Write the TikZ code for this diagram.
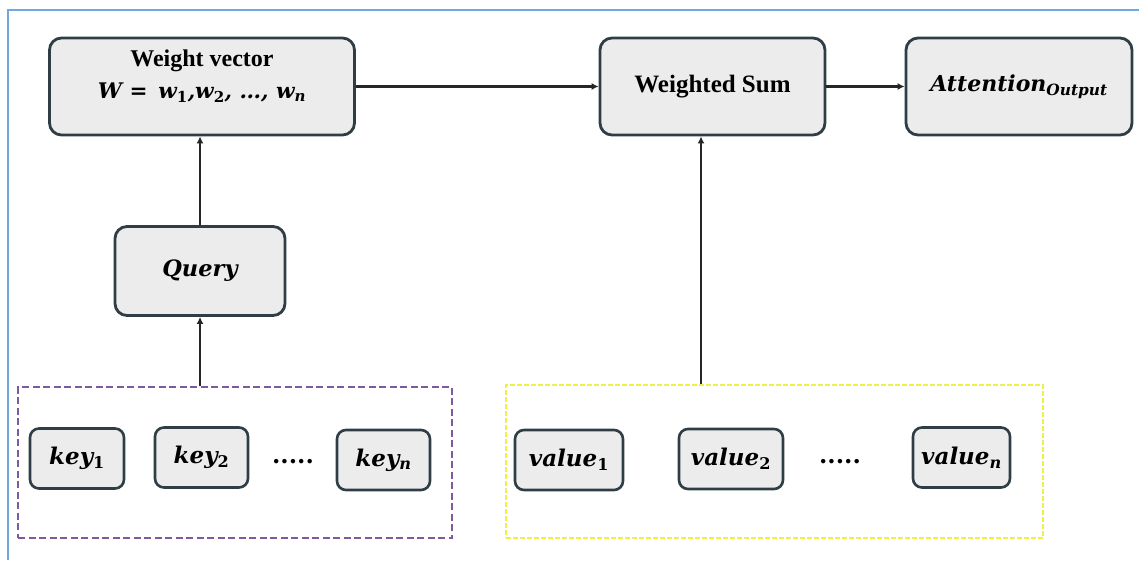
\documentclass[tikz,border=0pt]{standalone}
\usepackage{fontspec}
\setmainfont{Liberation Serif}
\newfontfamily\lblfont{DejaVu Serif}
\usetikzlibrary{arrows.meta}
\definecolor{boxfill}{HTML}{ECECEC}
\definecolor{boxline}{HTML}{2F3D44}
\definecolor{framebl}{HTML}{6FA8DC}
\definecolor{grppurple}{HTML}{7D5A9E}
\definecolor{grpyellow}{HTML}{EEF04A}
\newcommand{\lbl}[1]{{\lblfont\bfseries\itshape #1}}
\newcommand{\lsub}[1]{\textsubscript{#1}}
\newcommand{\lupsub}[1]{\textsubscript{\upshape #1}}

\begin{document}
\begin{tikzpicture}[x=1pt,y=-1pt,
    blk/.style={draw=boxline,fill=boxfill,line width=2.8pt,rounded corners=12pt,
      inner sep=0pt,align=center,minimum height=97pt},
    itembox/.style={draw=boxline,fill=boxfill,line width=2.6pt,rounded corners=9pt,
      inner sep=0pt,minimum height=60pt,font=\fontsize{23}{27}\selectfont},
    dotrow/.style={inner sep=0pt,font=\fontsize{24}{28}\selectfont\lblfont\bfseries},
    grp/.style={rectangle,line width=2.4pt,inner sep=0pt}]
  \useasboundingbox (0,0) rectangle (1139,560);
  \draw[framebl,line width=1.8pt] (8,560) -- (8,10) -- (1139,10);
  % top row
  \draw
    (202,86.5) node[blk,minimum width=305pt] (w){\raisebox{0pt}[\height][\dimexpr\depth+21pt\relax]{%
      \begin{tabular}{@{}c@{}}
        {\fontsize{24}{28}\selectfont\bfseries Weight vector}\\[13pt]
        {\fontsize{21.5}{24}\selectfont\lbl{W =\enspace w\lupsub{1},w\lupsub{2}, \dots, w\lsub{n}}}
      \end{tabular}}}
    (712.5,86.5) node[blk,minimum width=225pt,font=\fontsize{25}{28}\selectfont\bfseries] (wsum){Weighted Sum}
    (1019,86.5) node[blk,minimum width=226pt,font=\fontsize{22}{26}\selectfont] (attn){\lbl{Attention\lsub{Output}}}
    (200,271) node[blk,minimum width=170pt,minimum height=89pt,font=\fontsize{22.5}{26}\selectfont] (query){\lbl{Query}};
  % groups
  \draw
    (235,462.5) node[grp,draw=grppurple,dash pattern=on 7pt off 3.5pt,minimum width=434pt,minimum height=151pt] (keygrp){}
    (774.5,461.5) node[grp,draw=grpyellow,line width=1.8pt,dash pattern=on 5pt off 2pt,minimum width=537pt,minimum height=153pt] (valgrp){};
  \draw
    (77,458.5) node[itembox,minimum width=94pt] (key1){\lbl{key\lupsub{1}}}
    (201.5,457.5) node[itembox,minimum width=93pt] (key2){\lbl{key\lupsub{2}}}
    (293,462) node[dotrow] (keydots){.....}
    (383.5,460) node[itembox,minimum width=93pt] (keyn){\lbl{key\lsub{n}}}
    (569,460) node[itembox,minimum width=108pt] (value1){\lbl{value\lupsub{1}}}
    (731,459) node[itembox,minimum width=104pt] (value2){\lbl{value\lupsub{2}}}
    (840,462) node[dotrow] (valdots){.....}
    (961.5,457.5) node[itembox,minimum width=97pt] (valuen){\lbl{value\lsub{n}}};
  \begin{scope}[-{Latex[length=7pt,width=7pt]},line width=2.3pt,black!85]
    \draw (wsum.west -| w.east) to (wsum.west);
    \draw (wsum) to (attn);
    \draw (keygrp.north -| query.south) to (query.south);
    \draw (query) to (query |- w.south);
    \draw ([xshift=-11.5pt]wsum.south |- valgrp.north) to ([xshift=-11.5pt]wsum.south);
  \end{scope}
\end{tikzpicture}
\end{document}
